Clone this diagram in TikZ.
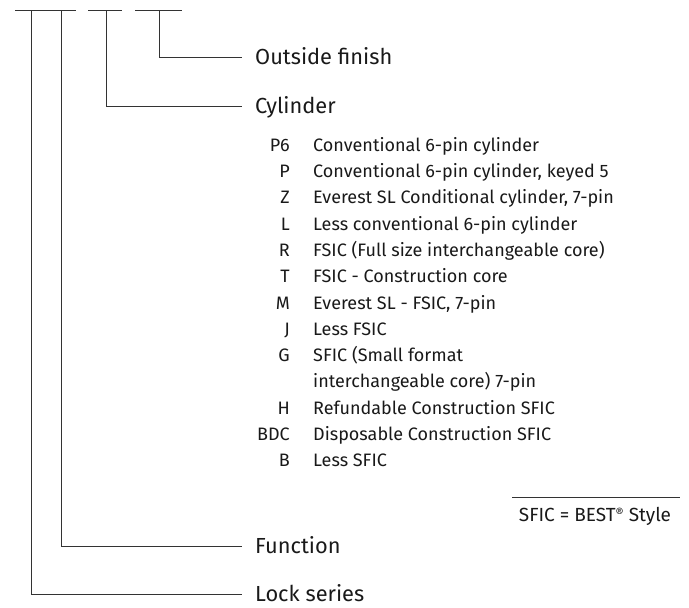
\documentclass[tikz,border=0pt]{standalone}
\usepackage{fontspec}
\setmainfont{Fira Sans}
\begin{document}
\begin{tikzpicture}[x=1pt,y=-1pt,
  ln/.style={draw=black!80, line width=1pt},
  lbl/.style={anchor=west, inner sep=0pt, text height=19.8pt, text depth=5pt, font=\fontsize{21.8}{24}\selectfont, text=black!90},
  code/.style={anchor=east, inner sep=0pt, text height=16.4pt, text depth=4pt, font=\fontsize{18}{20}\selectfont, text=black!90},
  desc/.style={anchor=west, inner sep=0pt, text height=16.4pt, text depth=4pt, font=\fontsize{18}{20}\selectfont, text=black!90},
]
\useasboundingbox (0,0) rectangle (689,608);
% top segments
\coordinate (s1a) at (15,10); \coordinate (s1b) at (76,10);
\coordinate (s2a) at (88,10); \coordinate (s2b) at (122,10);
\coordinate (s3a) at (135,10); \coordinate (s3b) at (182,10);
\draw[ln] (s1a) -- (s1b);
\draw[ln] (s2a) -- (s2b);
\draw[ln] (s3a) -- (s3b);
\coordinate (t1) at (31,10);
\coordinate (t2) at (61,10);
\coordinate (t3) at (106,10);
\coordinate (t4) at (159,10);
% labels
\node[lbl] (outside) at (255,57) {Outside finish};
\node[lbl] (cyl) at (255,106) {Cylinder};
\node[lbl] (func) at (255,546) {Function};
\node[lbl] (lock) at (255,594) {Lock series};
\draw[ln] (t4) |- ([xshift=-13pt]outside.west);
\draw[ln] (t3) |- ([xshift=-13pt]cyl.west);
\draw[ln] (t2) |- ([xshift=-13pt]func.west);
\draw[ln] (t1) |- ([xshift=-13pt]lock.west);
% list
\node[code] (c1) at (290,145) {P6};
\node[desc] (d1) at (313,145) {Conventional 6-pin cylinder};
\node[code] (c2) at (290,171.3) {P};
\node[desc] (d2) at (313,171.3) {Conventional 6-pin cylinder, keyed 5};
\node[code] (c3) at (290,197.6) {Z};
\node[desc] (d3) at (313,197.6) {Everest SL Conditional cylinder, 7-pin};
\node[code] (c4) at (290,224) {L};
\node[desc] (d4) at (313,224) {Less conventional 6-pin cylinder};
\node[code] (c5) at (290,250.2) {R};
\node[desc] (d5) at (313,250.2) {FSIC (Full size interchangeable core)};
\node[code] (c6) at (290,276.5) {T};
\node[desc] (d6) at (313,276.5) {FSIC - Construction core};
\node[code] (c7) at (290,302.8) {M};
\node[desc] (d7) at (313,302.8) {Everest SL - FSIC, 7-pin};
\node[code] (c8) at (290,329.1) {J};
\node[desc] (d8) at (313,329.1) {Less FSIC};
\node[code] (c9) at (290,355.4) {G};
\node[desc] (d9) at (313,355.4) {SFIC (Small format};
\node[desc] (d10) at (313,381.7) {interchangeable core) 7-pin};
\node[code] (c11) at (290,408) {H};
\node[desc] (d11) at (313,408) {Refundable Construction SFIC};
\node[code] (c12) at (290,434.3) {BDC};
\node[desc] (d12) at (313,434.3) {Disposable Construction SFIC};
\node[code] (c13) at (290,460.6) {B};
\node[desc] (d13) at (313,460.6) {Less SFIC};
% note
\coordinate (na) at (512,497);
\coordinate (nb) at (680,497);
\draw[ln] (na) -- (nb);
\node[desc, anchor=center, font=\fontsize{19}{20}\selectfont] (note) at (595,515) {SFIC = BEST{\fontsize{12.5}{12.5}\selectfont\raisebox{0.5ex}{®}} Style};
\end{tikzpicture}
\end{document}
